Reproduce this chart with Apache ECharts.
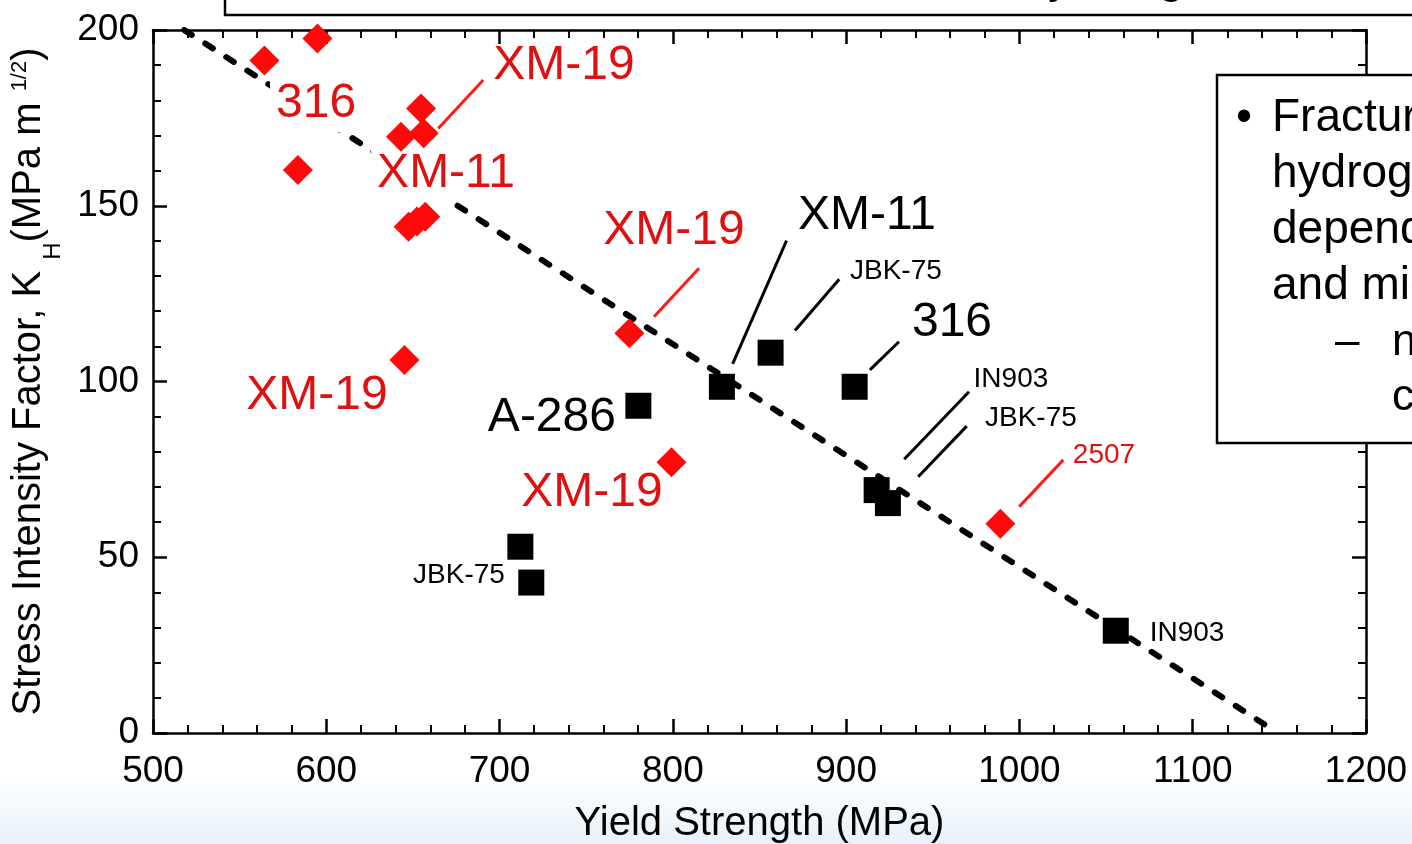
<!DOCTYPE html>
<html>
<head>
<meta charset="utf-8">
<script src="https://cdn.jsdelivr.net/npm/echarts@6/dist/echarts.min.js"></script>
<style>
  html, body { margin: 0; padding: 0; background: #fff; }
  #chart { width: 1412px; height: 844px; }
</style>
</head>
<body>
<div id="chart"></div>
<script>
(function () {
  'use strict';

  // yield strength (MPa), K_H (MPa m^1/2)
  var blackSquares = [
    [828.3, 98.5], [856.4, 108.2], [904.9, 98.5], [780.1, 93.1],
    [917.6, 69.1], [924.1, 65.4], [712.0, 53.0], [718.3, 42.8], [1055.6, 29.1]
  ];
  var redDiamonds = [
    [564.3, 191.3], [594.9, 197.6], [583.6, 160.2], [643.1, 169.6],
    [654.7, 177.7], [656.2, 170.6], [647.5, 144.0], [652.3, 145.5],
    [657.1, 146.9], [645.1, 106.1], [774.9, 113.7], [799.2, 77.0], [989.0, 59.5]
  ];
  var trendLine = [[518, 200], [1146, 1]];

  // annotation labels: text, x, y
  var redBigLabels = [
    ['XM-19', 737.2, 189.8], ['XM-19', 800.6, 142.8],
    ['XM-19', 594.6, 95.9], ['XM-19', 753.3, 68.3]
  ];
  var redMaskedLabels = [['316', 594.1, 178.9], ['XM-11', 669.1, 159.0]];
  var redSmallLabels = [['2507', 1048.8, 79.1]];
  var blackBigLabels = [['XM-11', 912.0, 147.1], ['316', 961.1, 116.6], ['A-286', 730.2, 89.6]];
  var blackSmallLabels = [
    ['JBK-75', 928.7, 131.4], ['IN903', 995.1, 100.7], ['JBK-75', 1006.6, 89.6],
    ['JBK-75', 676.6, 45.0], ['IN903', 1096.7, 28.4]
  ];

  // leader lines: x1, y1, x2, y2
  var redLeaders = [
    [664.6, 172.0, 690.6, 185.8],
    [789.1, 118.4, 815.1, 132.2],
    [999.9, 64.4, 1025.3, 77.7]
  ];
  var blackLeaders = [
    [834.5, 105.0, 865.6, 140.1],
    [870.5, 114.5, 896.0, 129.1],
    [913.7, 103.3, 930.5, 111.3],
    [933.5, 77.9, 970.9, 97.1],
    [941.6, 72.9, 969.6, 87.3]
  ];

  var xTicks = { min: 500, max: 1200, interval: 100 };
  var yTicks = { min: 0, max: 200, interval: 50 };

  var noteLines = [
    'Fracture resistance in',
    'hydrogen is strongly',
    'dependent on strength',
    'and microstructure'
  ];
  var subNoteLines = ['not on', 'composition'];

  var FONT = '"Liberation Sans", Arial, Helvetica, sans-serif';
  var RED_TEXT = '#e01010';
  var RED_MARK = '#ff0a0a';

  function axis(pos, showLabel, t) {
    return {
      type: 'value', position: pos, min: t.min, max: t.max, interval: t.interval,
      axisLine: { show: true, onZero: false, lineStyle: { color: '#000', width: 2.5 } },
      axisTick: { show: true, inside: true, length: 14, lineStyle: { color: '#000', width: 2.5 } },
      minorTick: { show: true, splitNumber: 5, length: 8, lineStyle: { color: '#000', width: 2 } },
      splitLine: { show: false }, minorSplitLine: { show: false },
      axisLabel: {
        show: showLabel, color: '#000', fontSize: 37, fontFamily: FONT,
        formatter: function (v) { return String(v); },
      },
    };
  }

  function labelSeries(list, color, size, masked) {
    return {
      type: 'scatter', z: 3, silent: true, symbolSize: 1,
      itemStyle: { color: 'rgba(0,0,0,0)', opacity: 1 },
      emphasis: { disabled: true },
      label: {
        show: true, position: 'inside', formatter: '{b}', opacity: 1,
        color: color, fontSize: size, fontFamily: FONT, textBorderWidth: 0,
        backgroundColor: masked ? '#fff' : 'transparent',
        padding: masked ? [4, 6] : 0,
      },
      data: list.map(function (l) { return { name: l[0], value: [l[1], l[2]] }; }),
    };
  }

  function leaderSeries(list, color) {
    return {
      type: 'lines', coordinateSystem: 'cartesian2d', z: 4, silent: true,
      lineStyle: { color: color, width: 3, opacity: 1, curveness: 0 },
      data: list.map(function (s) { return { coords: [[s[0], s[1]], [s[2], s[3]]] }; }),
    };
  }

  var xBottom = axis('bottom', true, xTicks);
  xBottom.axisLabel.margin = 20;
  xBottom.name = 'Yield Strength (MPa)';
  xBottom.nameLocation = 'middle';
  xBottom.nameGap = 71;
  xBottom.nameTextStyle = { color: '#000', fontSize: 40, fontFamily: FONT };

  var yLeft = axis('left', true, yTicks);
  yLeft.axisLabel.margin = 14;
  yLeft.name = '{a|Stress Intensity Factor, K }{s|H}{a|(MPa m }{p|1/2}{a|)}';
  yLeft.nameLocation = 'middle';
  yLeft.nameRotate = 90;
  yLeft.nameGap = 88;
  yLeft.nameTextStyle = {
    rich: {
      a: { fontSize: 40, fontFamily: FONT, color: '#000', lineHeight: 72, verticalAlign: 'middle' },
      s: { fontSize: 24, fontFamily: FONT, color: '#000', lineHeight: 22, verticalAlign: 'bottom' },
      p: { fontSize: 22, fontFamily: FONT, color: '#000', padding: [0, 0, 18, 0], verticalAlign: 'middle' },
    },
  };

  var graphics = [
    {
      type: 'rect', z: -10, silent: true,
      shape: { x: 0, y: 0, width: 1412, height: 844 },
      style: {
        fill: new echarts.graphic.LinearGradient(0, 0, 0, 1, [
          { offset: 0, color: '#ffffff' }, { offset: 0.92, color: '#ffffff' }, { offset: 1, color: '#e6f1fa' }
        ]),
      },
    },
    {
      type: 'rect', z: 100, silent: true,
      shape: { x: 225, y: -10, width: 1300, height: 25 },
      style: { fill: '#fff', stroke: '#000', lineWidth: 2.5 },
    },
    { type: 'text', z: 101, silent: true, style: { text: 'y', x: 1048, y: -21, font: '48px ' + FONT, fill: '#000', verticalAlign: 'middle' } },
    { type: 'text', z: 101, silent: true, style: { text: 'g', x: 1158, y: -21, font: '48px ' + FONT, fill: '#000', verticalAlign: 'middle' } },
    {
      type: 'rect', z: 100, silent: true,
      shape: { x: 1217, y: 75, width: 300, height: 368 },
      style: { fill: '#fff', stroke: '#000', lineWidth: 2.5 },
    },
    { type: 'text', z: 101, silent: true, style: { text: '•', x: 1236, y: 118, font: '46px ' + FONT, fill: '#000', verticalAlign: 'middle' } },
  ];
  noteLines.forEach(function (t, i) {
    graphics.push({
      type: 'text', z: 101, silent: true,
      style: { text: t, x: 1272, y: 118 + i * 56, font: '46px ' + FONT, fill: '#000', verticalAlign: 'middle' },
    });
  });
  graphics.push({ type: 'text', z: 101, silent: true, style: { text: '–', x: 1335, y: 343, font: '44px ' + FONT, fill: '#000', verticalAlign: 'middle' } });
  subNoteLines.forEach(function (t, i) {
    graphics.push({
      type: 'text', z: 101, silent: true,
      style: { text: t, x: 1392, y: 343 + i * 55, font: '44px ' + FONT, fill: '#000', verticalAlign: 'middle' },
    });
  });

  var chart = echarts.init(document.getElementById('chart'), null, { renderer: 'canvas' });
  chart.setOption({
    backgroundColor: 'transparent',
    animation: false,
    grid: { left: 153, right: 46, top: 30, bottom: 111, containLabel: false, outerBoundsMode: 'none' },
    xAxis: [xBottom, axis('top', false, xTicks)],
    yAxis: [yLeft, axis('right', false, yTicks)],
    graphic: graphics,
    series: [
      {
        type: 'line', z: 2, silent: true, data: trendLine, showSymbol: false, symbol: 'none',
        lineStyle: { color: '#000', width: 6, type: [9, 16], cap: 'round', opacity: 1 },
        emphasis: { disabled: true },
      },
      labelSeries(redMaskedLabels, RED_TEXT, 48, true),
      labelSeries(redBigLabels, RED_TEXT, 48, false),
      labelSeries(redSmallLabels, RED_TEXT, 28, false),
      labelSeries(blackBigLabels, '#000', 48, false),
      labelSeries(blackSmallLabels, '#000', 28, false),
      leaderSeries(redLeaders, '#ff1a1a'),
      leaderSeries(blackLeaders, '#000'),
      {
        type: 'scatter', z: 5, silent: true, symbol: 'rect', symbolSize: 26,
        itemStyle: { color: '#000', opacity: 1 }, emphasis: { disabled: true }, data: blackSquares,
      },
      {
        type: 'scatter', z: 5, silent: true, symbol: 'diamond', symbolSize: 30,
        itemStyle: { color: RED_MARK, opacity: 1 }, emphasis: { disabled: true }, data: redDiamonds,
      },
    ],
  });
})();
</script>
</body>
</html>
